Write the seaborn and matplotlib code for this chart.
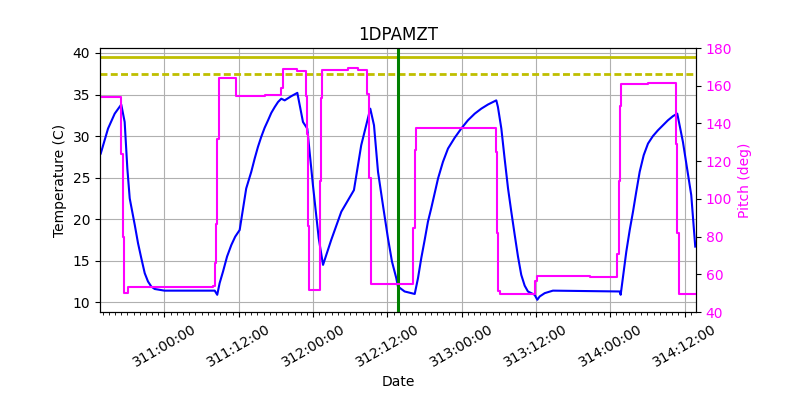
import numpy as np
import pandas as pd
import matplotlib
matplotlib.use("Agg")
import matplotlib.pyplot as plt
import matplotlib.ticker as mticker
import seaborn as sns

# Temperature (1DPAMZT) vs day-of-year
temp_time = [310.571, 310.620, 310.665, 310.709, 310.732, 310.750, 310.766, 310.800,
             310.822, 310.844, 310.867, 310.889, 310.911, 310.934, 311.000, 311.338,
             311.355, 311.371, 311.394, 311.421, 311.450, 311.476, 311.506, 311.550,
             311.584, 311.607, 311.629, 311.651, 311.674, 311.697, 311.719, 311.742,
             311.764, 311.786, 311.809, 311.853, 311.894, 311.932, 311.961, 311.999,
             312.038, 312.067, 312.122, 312.190, 312.275, 312.324, 312.385, 312.410,
             312.437, 312.470, 312.504, 312.531, 312.560, 312.571, 312.616, 312.684,
             312.706, 312.728, 312.751, 312.773, 312.795, 312.841, 312.874, 312.908,
             312.953, 312.997, 313.042, 313.088, 313.132, 313.177, 313.233, 313.244,
             313.267, 313.289, 313.312, 313.334, 313.357, 313.379, 313.401, 313.424,
             313.446, 313.491, 313.509, 313.525, 313.559, 313.614, 314.063, 314.070,
             314.108, 314.131, 314.153, 314.175, 314.198, 314.225, 314.254, 314.287,
             314.321, 314.388, 314.422, 314.451, 314.489, 314.545, 314.572]
temp_vals = [27.9, 30.9, 32.7, 33.8, 31.7, 26.1, 22.5, 19.3,
             17.1, 15.3, 13.5, 12.5, 11.9, 11.6, 11.4, 11.4,
             10.9, 12.3, 13.7, 15.5, 16.9, 17.9, 18.7, 23.7,
             25.7, 27.3, 28.7, 29.9, 31.0, 31.9, 32.8, 33.5,
             34.1, 34.5, 34.3, 34.8, 35.2, 31.7, 30.9, 24.1,
             17.7, 14.5, 17.5, 20.9, 23.5, 28.9, 33.3, 31.3,
             25.7, 21.7, 17.7, 14.9, 12.9, 11.9, 11.3, 11.0,
             12.9, 15.3, 17.5, 19.7, 21.3, 24.9, 26.9, 28.5,
             29.8, 30.9, 31.9, 32.7, 33.3, 33.8, 34.3, 33.5,
             30.9, 27.3, 23.7, 20.9, 18.1, 15.5, 13.3, 12.0,
             11.3, 10.9, 10.3, 10.7, 11.1, 11.4, 11.3, 10.9,
             16.1, 18.7, 20.9, 23.3, 25.7, 27.7, 29.1, 30.0,
             30.7, 31.9, 32.4, 32.7, 29.3, 22.9, 16.7]

# Pitch (deg), piecewise constant
pitch_time = [310.571, 310.705, 310.721, 310.727, 310.754, 311.326, 311.338, 311.347,
              311.353, 311.365, 311.483, 311.674, 311.786, 311.797, 311.890, 311.954,
              311.961, 311.966, 311.972, 312.044, 312.051, 312.060, 312.235, 312.302,
              312.365, 312.374, 312.388, 312.672, 312.684, 312.695, 313.229, 313.236,
              313.244, 313.256, 313.491, 313.509, 313.861, 314.047, 314.057, 314.065,
              314.074, 314.254, 314.440, 314.451, 314.462, 314.577]
pitch_vals = [154.1, 123.7, 79.8, 50.3, 53.3, 53.8, 66.2, 86.5,
              131.6, 164.0, 154.6, 155.1, 159.0, 169.0, 167.7, 154.6,
              134.3, 85.6, 51.7, 109.5, 153.7, 168.4, 169.5, 168.4,
              155.5, 111.3, 55.1, 84.8, 125.8, 137.5, 124.6, 82.1,
              51.1, 49.4, 56.4, 59.1, 58.6, 70.6, 109.5, 149.3,
              160.8, 161.3, 129.0, 82.1, 49.8, 49.8]

planning_limit = 39.5
caution_limit = 37.5
event_time = 312.569
title = "1DPAMZT"

fig = plt.figure(figsize=(8, 4), dpi=100)
ax = fig.add_subplot(111)
fig.subplots_adjust(left=0.125, right=0.87, bottom=0.22, top=0.88)

tdf = pd.DataFrame({"time": temp_time, "temp": temp_vals})
sns.lineplot(data=tdf, x="time", y="temp", ax=ax, color="blue", lw=1.5,
             estimator=None, sort=False, zorder=3)
ax.axhline(planning_limit, color="#bfbf00", lw=2, zorder=2)
ax.axhline(caution_limit, color="#bfbf00", lw=2, ls=(0, (2.5, 1.2)), zorder=2)
ax.axvline(event_time, color="green", lw=2.2, zorder=4)

ax.set_xlim(310.566, 314.577)
ax.set_ylim(8.83, 40.6)
ax.set_yticks([10, 15, 20, 25, 30, 35, 40])
ax.grid(True, color="#b0b0b0", lw=0.8)
ax.set_axisbelow(True)
ax.set_title(title, fontsize=12)
ax.set_xlabel("Date")
ax.set_ylabel("Temperature (C)")

def doy_fmt(v, pos):
    total_min = int(round(v * 24 * 60))
    d = total_min // (24 * 60)
    rem = total_min % (24 * 60)
    return f"{d}:{rem // 60:02d}:{rem % 60:02d}"

ax.xaxis.set_major_locator(mticker.MultipleLocator(0.5))
ax.xaxis.set_minor_locator(mticker.MultipleLocator(1 / 24))
ax.xaxis.set_major_formatter(mticker.FuncFormatter(doy_fmt))
ax.tick_params(axis="x", which="major", labelrotation=30)

ax2 = ax.twinx()
pdf = pd.DataFrame({"time": pitch_time, "pitch": pitch_vals})
sns.lineplot(data=pdf, x="time", y="pitch", ax=ax2, color="magenta", lw=1.5,
             estimator=None, sort=False, drawstyle="steps-post")
ax2.set_ylim(40, 180)
ax2.set_yticks([40, 60, 80, 100, 120, 140, 160, 180])
ax2.set_ylabel("Pitch (deg)", color="magenta")
ax2.tick_params(axis="y", labelcolor="magenta")
ax2.set_xlim(310.566, 314.577)
ax2.grid(False)

fig.savefig("out.png", dpi=100)
